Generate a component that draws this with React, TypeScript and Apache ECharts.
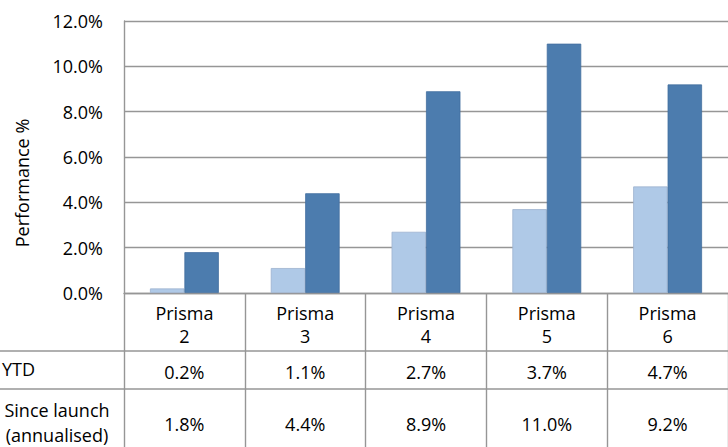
import React, { useEffect, useRef } from "react";
import * as echarts from "echarts";

const categories = ["Prisma 2", "Prisma 3", "Prisma 4", "Prisma 5", "Prisma 6"];
const ytd = [0.2, 1.1, 2.7, 3.7, 4.7];
const sinceLaunch = [1.8, 4.4, 8.9, 11.0, 9.2];
const rowLabels = ["YTD", "Since launch\n(annualised)"];
const yTicks = { min: 0, max: 12, interval: 2 };
const yTitle = "Performance %";

const FONT = "'Open Sans', sans-serif";
const FS = 18;
const GRID = "#969696";

export default function App() {
  const ref = useRef<HTMLDivElement>(null);
  useEffect(() => {
    if (!ref.current) return;
    const chart = echarts.init(ref.current, null, { renderer: "svg" });
    const pct = (v: number) => v.toFixed(1) + "%";
    const valueAxis = (values: number[], margin: number) => ({
      type: "category",
      data: categories,
      position: "bottom",
      gridIndex: 0,
      axisLine: { show: false },
      axisTick: { show: false },
      splitLine: { show: false },
      axisLabel: {
        interval: 0,
        margin,
        color: "#000",
        fontFamily: FONT,
        fontSize: FS,
        lineHeight: 20,
        formatter: (_v: string, i: number) => pct(values[i]),
      },
    });
    chart.setOption({
      animation: false,
      backgroundColor: "#fff",
      grid: { left: 124, top: 21, width: 609, height: 272, containLabel: false },
      xAxis: [
        {
          type: "category",
          data: categories,
          position: "bottom",
          axisLine: { show: true, lineStyle: { color: GRID, width: 1.4 } },
          axisTick: { show: true, length: 154, interval: 0, lineStyle: { color: GRID, width: 1.4 } },
          axisLabel: {
            interval: 0,
            margin: 8,
            color: "#000",
            fontFamily: FONT,
            fontSize: FS,
            lineHeight: 23,
            formatter: (v: string) => v.replace(" ", "\n"),
          },
        },
        valueAxis(ytd, 69),
        valueAxis(sinceLaunch, 121),
      ],
      yAxis: {
        type: "value",
        min: yTicks.min,
        max: yTicks.max,
        interval: yTicks.interval,
        axisLine: { show: true, lineStyle: { color: GRID, width: 1.4 } },
        axisTick: { show: false },
        splitLine: { show: true, lineStyle: { color: GRID, width: 1.4 } },
        axisLabel: {
          margin: 21,
          color: "#000",
          fontFamily: FONT,
          fontSize: FS,
          padding: [5, 0, 0, 0],
          formatter: (v: number) => pct(v),
        },
      },
      series: [
        {
          name: rowLabels[0],
          type: "bar",
          data: ytd,
          barGap: "0%",
          barCategoryGap: "43%",
          itemStyle: { color: "#afc9e7", borderColor: "#9db3cf", borderWidth: 0.8 },
        },
        {
          name: rowLabels[1],
          type: "bar",
          data: sinceLaunch,
          barGap: "0%",
          barCategoryGap: "43%",
          itemStyle: { color: "#4c7cae", borderColor: "#426e9e", borderWidth: 0.8 },
        },
      ],
      graphic: [
        { type: "line", shape: { x1: 0, y1: 351, x2: 728, y2: 351 }, style: { stroke: GRID, lineWidth: 1.4 } },
        { type: "line", shape: { x1: 0, y1: 389, x2: 728, y2: 389 }, style: { stroke: GRID, lineWidth: 1.4 } },
        {
          type: "text",
          left: 2,
          top: 360,
          style: { text: rowLabels[0], fontFamily: FONT, fontSize: FS, fill: "#000" },
        },
        {
          type: "text",
          x: 57,
          y: 422,
          style: {
            text: rowLabels[1],
            fontFamily: FONT,
            fontSize: FS,
            lineHeight: 25,
            fill: "#000",
            align: "center",
            verticalAlign: "middle",
          },
        },
        {
          type: "text",
          x: 22,
          y: 183,
          rotation: Math.PI / 2,
          style: {
            text: yTitle,
            fontFamily: FONT,
            fontSize: FS,
            fill: "#000",
            align: "center",
            verticalAlign: "middle",
          },
        },
      ],
    });
    return () => chart.dispose();
  }, []);
  return (
    <div
      ref={ref}
      style={{ position: "absolute", left: 0, top: 0, width: 728, height: 447, overflow: "hidden" }}
    />
  );
}
